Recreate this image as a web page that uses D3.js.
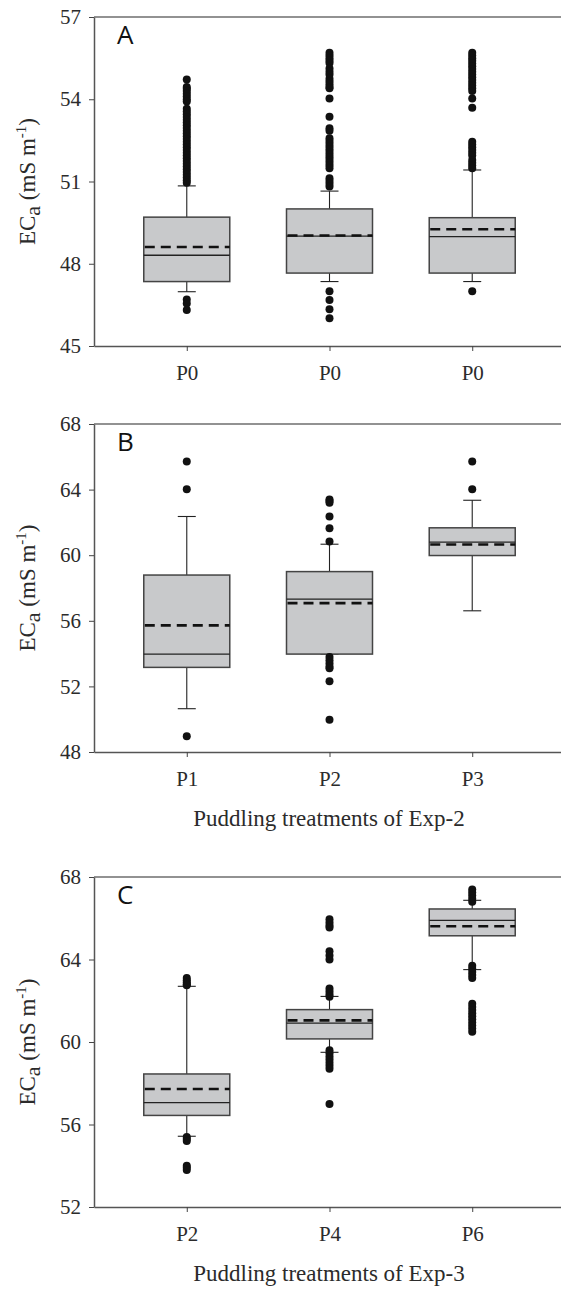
<!DOCTYPE html>
<html>
<head>
<meta charset="utf-8">
<script src="https://cdnjs.cloudflare.com/ajax/libs/d3/7.8.5/d3.min.js"></script>
<style>
body{margin:0;background:#fff;}
svg{display:block;}
</style>
</head>
<body>
<div id="chart"></div>
<script>
// panel A
const catsA = ["P0", "P0", "P0"];
const ticksA = [45, 48, 51, 54, 57];
const q1A = [47.35, 47.66, 47.66];
const medA = [48.31, 49.01, 48.99];
const q3A = [49.70, 50.00, 49.68];
const meanA = [48.61, 49.03, 49.26];
const loA = [46.98, 47.35, 47.35];
const hiA = [50.84, 50.65, 51.42];
const outA = [
  [54.72, 54.45, 54.38, 54.30, 54.20, 54.10, 54.00, 53.92, 53.65, 53.55, 53.45, 53.35, 53.25, 53.15, 53.05,
   52.95, 52.85, 52.75, 52.65, 52.55, 52.45, 52.35, 52.25, 52.15, 52.05, 51.95, 51.85, 51.75, 51.65,
   51.55, 51.45, 51.35, 51.25, 51.15, 51.05, 50.95, 46.70, 46.55, 46.31],
  [55.70, 55.60, 55.50, 55.40, 55.32, 55.12, 55.00, 54.90, 54.75, 54.65, 54.55, 54.45, 54.40, 54.03, 53.36,
   52.94, 52.85, 52.58, 52.48, 52.38, 52.28, 52.18, 52.08, 51.98, 51.88, 51.78, 51.68, 51.58, 51.48,
   51.12, 51.02, 50.92, 50.82, 47.00, 46.68, 46.34, 46.01],
  [55.70, 55.60, 55.50, 55.40, 55.30, 55.20, 55.10, 55.00, 54.90, 54.80, 54.70, 54.60, 54.50, 54.40, 54.30,
   54.03, 53.69, 52.45, 52.35, 52.25, 52.15, 52.05, 51.95, 51.78, 51.68, 51.58, 51.48, 47.00]
];

// panel B
const catsB = ["P1", "P2", "P3"];
const ticksB = [48, 52, 56, 60, 64, 68];
const q1B = [53.16, 53.97, 59.98];
const medB = [53.97, 57.32, 60.80];
const q3B = [58.79, 59.00, 61.67];
const meanB = [55.72, 57.08, 60.65];
const loB = [50.64, 53.97, 56.61];
const hiB = [62.36, 60.67, 63.35];
const outB = [
  [65.71, 64.02, 48.96],
  [63.40, 63.30, 63.20, 62.36, 61.65, 60.83, 53.80, 53.60, 53.40, 53.20, 53.10, 52.31, 49.97],
  [65.71, 64.02]
];

// panel C
const catsC = ["P2", "P4", "P6"];
const ticksC = [52, 56, 60, 64, 68];
const q1C = [56.44, 60.15, 65.15];
const medC = [57.06, 60.92, 65.90];
const q3C = [58.45, 61.57, 66.45];
const meanC = [57.72, 61.05, 65.61];
const loC = [55.43, 59.50, 63.51];
const hiC = [62.70, 62.21, 66.87];
const outC = [
  [63.10, 63.00, 62.90, 62.80, 62.75, 55.40, 55.30, 55.20, 54.00, 53.90, 53.80],
  [65.95, 65.80, 65.65, 65.55, 64.40, 64.20, 64.00, 62.60, 62.45, 62.30, 62.20,
   59.60, 59.45, 59.30, 59.15, 59.00, 58.85, 58.70, 57.00],
  [67.40, 67.25, 67.10, 66.95, 66.80, 63.70, 63.55, 63.40, 63.25, 63.10,
   61.85, 61.70, 61.55, 61.40, 61.25, 61.10, 60.95, 60.80, 60.65, 60.50]
];

const W = 561, H = 1289;
const svg = d3.select("#chart").append("svg").attr("width", W).attr("height", H);

const panels = [
  {letter:"A", cats:catsA, ticks:ticksA, q1:q1A, med:medA, q3:q3A, mean:meanA, lo:loA, hi:hiA, out:outA,
   top:17, bot:346, title:null},
  {letter:"B", cats:catsB, ticks:ticksB, q1:q1B, med:medB, q3:q3B, mean:meanB, lo:loB, hi:hiB, out:outB,
   top:424, bot:752, title:"Puddling treatments of Exp-2"},
  {letter:"C", cats:catsC, ticks:ticksC, q1:q1C, med:medC, q3:q3C, mean:meanC, lo:loC, hi:hiC, out:outC,
   top:877, bot:1207, title:"Puddling treatments of Exp-3"}
];

const left = 94, boxW = 86, capW = 18;
const serif = "Liberation Serif";

panels.forEach(p => {
  const g = svg.append("g");
  const x = d3.scalePoint().domain([0, 1, 2]).range([left, 565]).padding(0.65);
  const y = d3.scaleLinear().domain([p.ticks[0], p.ticks[p.ticks.length - 1]]).range([p.bot, p.top]);

  // top frame line
  g.append("line").attr("x1", left).attr("x2", W).attr("y1", p.top).attr("y2", p.top)
    .attr("stroke", "#6e6e6e").attr("stroke-width", 1.5);

  const ya = g.append("g").attr("transform", `translate(${left},0)`)
    .call(d3.axisLeft(y).tickValues(p.ticks).tickSize(5).tickSizeOuter(0).tickPadding(8));
  const xa = g.append("g").attr("transform", `translate(0,${p.bot})`)
    .call(d3.axisBottom(x).tickFormat(i => p.cats[i]).tickSize(5).tickSizeOuter(0).tickPadding(14));
  [ya, xa].forEach(a => {
    a.attr("font-family", serif).attr("font-size", 21);
    a.select(".domain").attr("stroke", "#555").attr("stroke-width", 1.5);
    a.selectAll(".tick line").attr("stroke", "#444");
    a.selectAll(".tick text").attr("fill", "#2b2b2b")
      .attr("font-family", serif).style("font-family", serif).style("font-size", "21px");
  });

  const idx = [0, 1, 2];
  // whiskers
  idx.forEach(i => {
    const cx = x(i);
    g.append("line").attr("x1", cx).attr("x2", cx).attr("y1", y(p.q3[i])).attr("y2", y(p.hi[i]))
      .attr("stroke", "#222").attr("stroke-width", 1.1);
    g.append("line").attr("x1", cx).attr("x2", cx).attr("y1", y(p.q1[i])).attr("y2", y(p.lo[i]))
      .attr("stroke", "#222").attr("stroke-width", 1.1);
    [p.hi[i], p.lo[i]].forEach(v => {
      g.append("line").attr("x1", cx - capW / 2).attr("x2", cx + capW / 2).attr("y1", y(v)).attr("y2", y(v))
        .attr("stroke", "#222").attr("stroke-width", 1.1);
    });
  });

  // boxes
  g.selectAll("rect.box").data(idx).join("rect").attr("class", "box")
    .attr("x", i => x(i) - boxW / 2).attr("width", boxW)
    .attr("y", i => y(p.q3[i])).attr("height", i => y(p.q1[i]) - y(p.q3[i]))
    .attr("fill", "#c8c9cb").attr("stroke", "#444").attr("stroke-width", 1.5);

  g.selectAll("line.med").data(idx).join("line").attr("class", "med")
    .attr("x1", i => x(i) - boxW / 2).attr("x2", i => x(i) + boxW / 2)
    .attr("y1", i => y(p.med[i])).attr("y2", i => y(p.med[i]))
    .attr("stroke", "#222").attr("stroke-width", 1.3);

  g.selectAll("line.mean").data(idx).join("line").attr("class", "mean")
    .attr("x1", i => x(i) - boxW / 2 + 1).attr("x2", i => x(i) + boxW / 2)
    .attr("y1", i => y(p.mean[i])).attr("y2", i => y(p.mean[i]))
    .attr("stroke", "#111").attr("stroke-width", 2.6).attr("stroke-dasharray", "10,6");

  // outliers
  idx.forEach(i => {
    g.selectAll(null).data(p.out[i]).join("circle")
      .attr("cx", x(i)).attr("cy", d => y(d)).attr("r", 4).attr("fill", "#111");
  });

  // panel letter
  g.append("text").attr("x", 117).attr("y", p.top + 27).text(p.letter)
    .attr("font-family", "Open Sans").style("font-size", "26px").attr("fill", "#111");

  // y label
  const yl = g.append("text")
    .attr("transform", `translate(35,${(p.top + p.bot) / 2}) rotate(-90)`)
    .attr("text-anchor", "middle").attr("fill", "#2b2b2b")
    .attr("font-family", serif).style("font-size", "23px");
  yl.append("tspan").text("EC");
  yl.append("tspan").text("a").attr("dy", 5).style("font-size", "22px");
  yl.append("tspan").text(" (mS m").attr("dy", -5);
  yl.append("tspan").text("-1").attr("dy", -9).style("font-size", "15px");
  yl.append("tspan").text(")").attr("dy", 9);

  if (p.title) {
    g.append("text").attr("x", 329).attr("y", p.bot + 74).attr("text-anchor", "middle")
      .attr("fill", "#2b2b2b").attr("font-family", serif).style("font-size", "23px").text(p.title);
  }
});
</script>
</body>
</html>
